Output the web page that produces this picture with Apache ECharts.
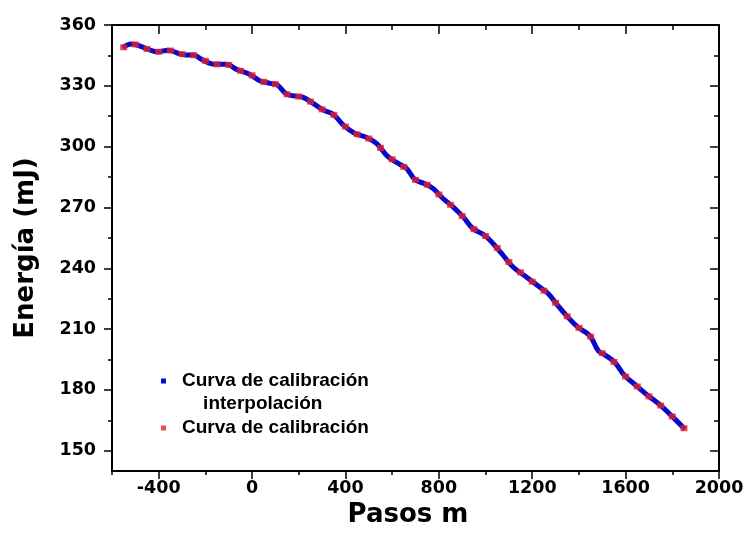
<!DOCTYPE html>
<html>
<head>
<meta charset="utf-8">
<script src="https://cdn.jsdelivr.net/npm/echarts@6/dist/echarts.min.js"></script>
<style>
  html, body { margin: 0; padding: 0; background: #fff; }
  #chart { width: 747px; height: 548px; }
</style>
</head>
<body>
<div id="chart"></div>
<script>
// Calibration: pulse energy (mJ) against motor steps
const interpSteps = [-554, -516, -480, -437, -402, -359, -323, -287, -252, -223, -180, -152, -109, -66, -9,
  33, 77, 105, 148, 191, 219, 262, 305, 348, 391, 441, 491, 534, 583, 633, 662, 698, 740, 776, 819,
  862, 905, 947, 997, 1033, 1076, 1119, 1176, 1233, 1269, 1304, 1347, 1397, 1447, 1483, 1511, 1554,
  1597, 1647, 1697, 1747, 1797, 1854];
const interpEnergy = [348.8, 350.6, 349.6, 347.6, 346.8, 347.6, 346.3, 345.2, 345.2, 343.5, 341.1, 340.6, 340.6, 338.1, 335.6,
  332.5, 331.2, 330.7, 325.9, 324.9, 324.3, 321.3, 318.0, 315.9, 310.6, 306.5, 304.5, 301.5, 294.9, 291.3, 289.2, 283.7, 281.7, 279.3, 274.3,
  270.2, 265.2, 259.5, 256.2, 252.1, 246.3, 240.5, 235.6, 230.6, 227.4, 222.4, 216.6, 210.8, 206.7, 199.3, 197.3, 193.5,
  186.9, 182.0, 177.1, 172.6, 167.2, 160.6];

const calibSteps = [-550, -500, -450, -400, -350, -300, -250, -200, -150, -100, -50, 0, 50, 100, 150, 200, 250, 300,
  350, 400, 450, 500, 550, 600, 650, 700, 750, 800, 850, 900, 950, 1000, 1050, 1100, 1150, 1200, 1250, 1300,
  1350, 1400, 1450, 1500, 1550, 1600, 1650, 1700, 1750, 1800, 1850];
const calibEnergy = [349.0, 350.4, 348.2, 346.8, 347.4, 345.7, 345.1, 342.3, 340.6, 340.3, 337.4, 335.2, 332.0, 330.8, 325.8, 324.7, 322.2, 318.4,
  315.7, 309.9, 306.1, 304.0, 299.4, 293.8, 290.0, 283.6, 281.2, 276.4, 271.3, 265.8, 259.3, 255.9, 250.0, 243.1, 238.0, 233.4, 228.9, 223.0,
  216.3, 210.6, 206.3, 198.1, 193.8, 186.6, 181.7, 176.8, 172.3, 166.9, 161.1];

const xMajorTicks = [-400, 0, 400, 800, 1200, 1600, 2000];
const xMinorTicks = [-600, -400, -200, 0, 200, 400, 600, 800, 1000, 1200, 1400, 1600, 1800, 2000];
const yMajorTicks = [150, 180, 210, 240, 270, 300, 330, 360];
const yMinorTicks = [150, 165, 180, 195, 210, 225, 240, 255, 270, 285, 300, 315, 330, 345, 360];

const nameInterp = 'Curva de calibración interpolación';
const nameCalib = 'Curva de calibración';

const AXIS_FONT = '"DejaVu Sans", sans-serif';
const LEGEND_FONT = '"Liberation Sans", Arial, sans-serif';
const BLACK = '#000';
const BLUE = '#0808cc';
const RED = '#e5212b';
const lineStyle = { color: BLACK, width: 2 };
const plain = v => String(v);

function xAxisDef(pos, ticks, len, inside, withLine, labels) {
  return {
    type: 'value', position: pos, min: -600, max: 2000,
    axisLine: { show: withLine, onZero: false, lineStyle },
    axisTick: { show: true, inside, length: len, customValues: ticks, lineStyle: { color: BLACK, width: 1.5 } },
    axisLabel: labels ? { show: true, customValues: xMajorTicks, formatter: plain, color: BLACK, fontFamily: AXIS_FONT, fontWeight: 'bold', fontSize: 17.5, margin: 8 } : { show: false },
    splitLine: { show: false }
  };
}
function yAxisDef(pos, ticks, len, inside, withLine, labels) {
  return {
    type: 'value', position: pos, min: 140, max: 360,
    axisLine: { show: withLine, onZero: false, lineStyle },
    axisTick: { show: true, inside, length: len, customValues: ticks, lineStyle: { color: BLACK, width: 1.5 } },
    axisLabel: labels ? { show: true, customValues: yMajorTicks, formatter: plain, color: BLACK, fontFamily: AXIS_FONT, fontWeight: 'bold', fontSize: 17.5, margin: 16 } : { show: false },
    splitLine: { show: false }
  };
}

const xMain = xAxisDef('bottom', xMajorTicks, 8, false, true, true);
xMain.name = 'Pasos m';
xMain.nameLocation = 'middle';
xMain.nameGap = 25;
xMain.nameTextStyle = { color: BLACK, fontFamily: AXIS_FONT, fontWeight: 'bold', fontSize: 26, padding: [0, 15, 0, 0] };

const yMain = yAxisDef('left', yMajorTicks, 8, false, true, true);
yMain.name = 'Energía (mJ)';
yMain.nameLocation = 'middle';
yMain.nameGap = 73;
yMain.nameTextStyle = { color: BLACK, fontFamily: AXIS_FONT, fontWeight: 'bold', fontSize: 26 };

const chart = echarts.init(document.getElementById('chart'), null, { renderer: 'canvas' });
chart.setOption({
  backgroundColor: '#fff',
  animation: false,
  grid: { left: 112, right: 28, top: 25, bottom: 77, containLabel: false },
  xAxis: [
    xMain,
    xAxisDef('bottom', xMinorTicks, 4, false, false, false),
    xAxisDef('top', xMajorTicks, 9, true, true, false),
    xAxisDef('top', xMinorTicks, 5, true, false, false)
  ],
  yAxis: [
    yMain,
    yAxisDef('left', yMinorTicks, 4, false, false, false),
    yAxisDef('right', yMajorTicks, 9, true, true, false),
    yAxisDef('right', yMinorTicks, 5, true, false, false)
  ],
  legend: [
    {
      data: [{ name: nameInterp, icon: 'rect' }],
      left: 161, top: 346.5, orient: 'vertical', padding: 0,
      itemWidth: 5, itemHeight: 5,
      formatter: () => ' \nCurva de calibración\n    interpolación',
      textStyle: { color: BLACK, fontFamily: LEGEND_FONT, fontWeight: 'bold', fontSize: 19, lineHeight: 23, padding: [0, 0, 0, 11] }
    },
    {
      data: [{ name: nameCalib, icon: 'rect' }],
      left: 161, top: 416.5, orient: 'vertical', padding: 0,
      itemWidth: 5, itemHeight: 5,
      textStyle: { color: BLACK, fontFamily: LEGEND_FONT, fontWeight: 'bold', fontSize: 19, lineHeight: 23, padding: [0, 0, 0, 11] }
    }
  ],
  series: [
    {
      name: nameInterp, type: 'line', xAxisIndex: 0, yAxisIndex: 0,
      data: interpSteps.map((s, i) => [s, interpEnergy[i]]),
      smooth: 0.4, showSymbol: false,
      itemStyle: { color: BLUE },
      lineStyle: { color: BLUE, width: 5 },
      z: 2
    },
    {
      name: nameCalib, type: 'scatter', xAxisIndex: 0, yAxisIndex: 0,
      data: calibSteps.map((s, i) => [s, calibEnergy[i]]),
      symbol: 'rect', symbolSize: [7, 6],
      itemStyle: { color: RED },
      z: 3
    }
  ]
});
</script>
</body>
</html>
